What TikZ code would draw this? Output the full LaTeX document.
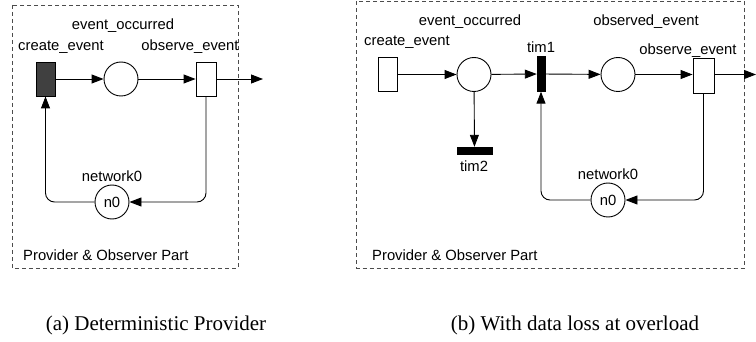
\documentclass[tikz,border=0pt]{standalone}
\usepackage{fontspec}
\setmainfont{Liberation Serif}
\newfontfamily\labfont{Liberation Sans}
\usetikzlibrary{arrows.meta}
\tikzset{
  lab/.style={font=\labfont\fontsize{14.8}{16}\selectfont, inner sep=0pt},
  captext/.style={font=\fontsize{21}{24}\selectfont, inner sep=0pt},
  place/.style={draw, circle, line width=0.9pt, minimum size=34pt, inner sep=0pt, fill=white, font=\labfont\fontsize{14.8}{16}\selectfont},
  trans/.style={draw, rectangle, line width=0.9pt, minimum width=19pt, minimum height=34pt, inner sep=0pt, fill=white},
  darktrans/.style={trans, fill=black!75},
  bar/.style={draw, rectangle, fill=black, inner sep=0pt},
  arc/.style={line width=0.9pt, -{Triangle[length=12pt,width=9pt]}},
  part/.style={draw=black!70, line width=0.9pt, dash pattern=on 4pt off 3pt}
}
\begin{document}
\begin{tikzpicture}[x=1pt,y=-1pt]
\useasboundingbox (0,0) rectangle (756,342);
% ---- (a) ----
\draw[part] (12,5) rectangle (238,268);
\node[darktrans] (ce) at (45.5,79) {};
\node[place] (eo) at (121,79) {};
\node[trans, minimum width=20pt] (oe) at (206,79) {};
\coordinate (out) at (263,79);
\node[place] (n0) at (112,202) {n0};
\node[lab] (l-eo) at (123,26) {event\_occurred};
\node[lab] (l-ce) at (61,47) {create\_event};
\node[lab] (l-oe) at (190,47) {observe\_event};
\node[lab] (l-n0) at (112,176) {network0};
\node[lab, anchor=west] (l-part) at (23,255) {Provider \& Observer Part};
\draw[arc] (ce) -- (eo);
\draw[arc] (eo) -- (oe);
\draw[arc] (oe) -- (out);
\draw[arc, rounded corners=9pt] (oe.south) |- (n0.east);
\draw[arc, rounded corners=9pt] (n0.west) -| (ce.south);
% ---- (b) ----
\draw[part] (356,1.5) rectangle (744,268);
\node[trans] (ce2) at (387.5,74.5) {};
\node[place] (eo2) at (474,74.5) {};
\node[bar, minimum width=8pt, minimum height=35pt] (tim1) at (541,74) {};
\node[place] (ob2) at (618,74.5) {};
\node[trans, minimum width=21pt, minimum height=35pt] (oe2) at (703.5,75.5) {};
\node[bar, minimum width=35pt, minimum height=7pt] (tim2) at (474.5,150.5) {};
\coordinate (out2) at (756,74.5);
\node[place] (n02) at (608,200) {n0};
\node[lab] (l-ce2) at (407,42) {create\_event};
\node[lab] (l-eo2) at (470,22) {event\_occurred};
\node[lab] (l-tim1) at (541,47) {tim1};
\node[lab] (l-ob2) at (646,22) {observed\_event};
\node[lab] (l-oe2) at (688,51) {observe\_event};
\node[lab] (l-tim2) at (474,166) {tim2};
\node[lab] (l-n02) at (608,174) {network0};
\node[lab, anchor=west] (l-part2) at (372,255) {Provider \& Observer Part};
\draw[arc] (ce2) -- (eo2);
\draw[arc] (eo2) -- (tim1);
\draw[arc] (tim1) -- (ob2);
\draw[arc] (ob2) -- (oe2.west |- ob2);
\draw[arc] (oe2.east |- out2) -- (out2);
\draw[arc] (eo2) -- (tim2);
\draw[arc, rounded corners=9pt] (oe2.south) |- (n02.east);
\draw[arc, rounded corners=9pt] (n02.west) -| (tim1.south);
% ---- captions ----
\node[captext] (capa) at (156,325) {(a) Deterministic Provider};
\node[captext] (capb) at (575,325) {(b) With data loss at overload};
\end{tikzpicture}
\end{document}
